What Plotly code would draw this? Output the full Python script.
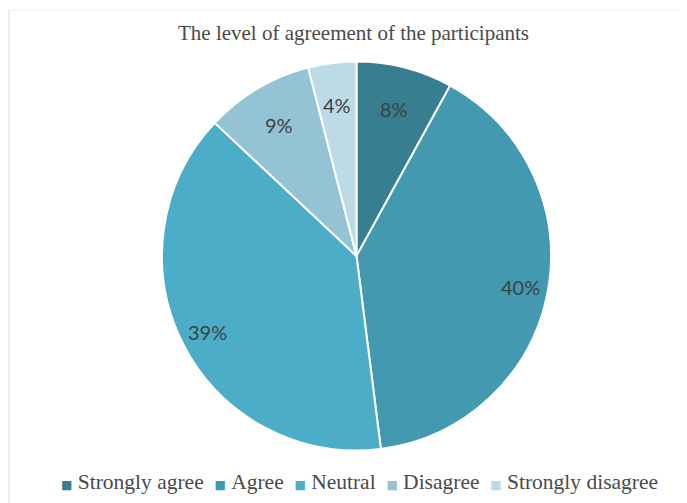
import math
import plotly.graph_objects as go

categories = ["Strongly agree", "Agree", "Neutral", "Disagree", "Strongly disagree"]
values = [8, 40, 39, 9, 4]
colors = ["#367E90", "#4399B0", "#4BADC7", "#94C3D6", "#BDDBE6"]

W, H = 687, 503
# page body has an 8px margin, so figure coords = screenshot coords - 8
cx, cy, r = 348.5, 248, 194.5

fig = go.Figure(go.Pie(
    labels=categories,
    values=values,
    sort=False,
    direction="clockwise",
    rotation=0,
    marker=dict(colors=colors, line=dict(color="white", width=2)),
    textinfo="none",
    hoverinfo="label+percent",
    showlegend=False,
    domain=dict(x=[(cx - r) / W, (cx + r) / W], y=[(H - cy - r) / H, (H - cy + r) / H]),
))

# data labels placed along each slice's mid-angle (Excel "best fit" style)
total = sum(values)
annotations = []
cum = 0
for v in values:
    mid = (cum + v / 2) / total * 2 * math.pi
    cum += v
    frac = 0.78 if v / total < 0.1 else 0.86
    px = cx + frac * r * math.sin(mid)
    py = cy - frac * r * math.cos(mid)
    annotations.append(dict(
        x=px / W, y=1 - py / H, xref="paper", yref="paper", showarrow=False,
        text=f"{v}%", xanchor="center", yanchor="middle",
        font=dict(family="Lato, sans-serif", size=20, color="#404040"),
    ))

serif = "Liberation Serif, Times New Roman, serif"

# legend built as one line of text: coloured square + label per category
nb = "\u00a0"
items = []
for name, col in zip(categories, colors):
    items.append(f'<span style="color:{col};font-size:12px;font-family:DejaVu Sans">■</span>{nb}{name}')
legend_text = (nb * 2).join(items)
annotations.append(dict(
    x=351 / W, y=1 - 474 / H, xref="paper", yref="paper", showarrow=False,
    text=legend_text, xanchor="center", yanchor="middle",
    font=dict(family=serif, size=21.5, color="#4a4a4a"),
))

fig.update_layout(
    width=W, height=H,
    margin=dict(l=0, r=0, t=0, b=0),
    paper_bgcolor="white",
    title=dict(text="The level of agreement of the participants",
               x=0.5 + 2 / W, xanchor="center", y=1 - 25 / H, yanchor="middle",
               font=dict(family=serif, size=21, color="#4a4a4a")),
    annotations=annotations,
    shapes=[
        dict(type="line", xref="paper", yref="paper", x0=1 / W, x1=1 / W, y0=0, y1=1 - 2 / H,
             line=dict(color="#D9D9D9", width=1)),
        dict(type="line", xref="paper", yref="paper", x0=1 / W, x1=1, y0=1 - 2 / H, y1=1 - 2 / H,
             line=dict(color="#EEEEEE", width=1)),
    ],
)

fig.write_html("out.html")
